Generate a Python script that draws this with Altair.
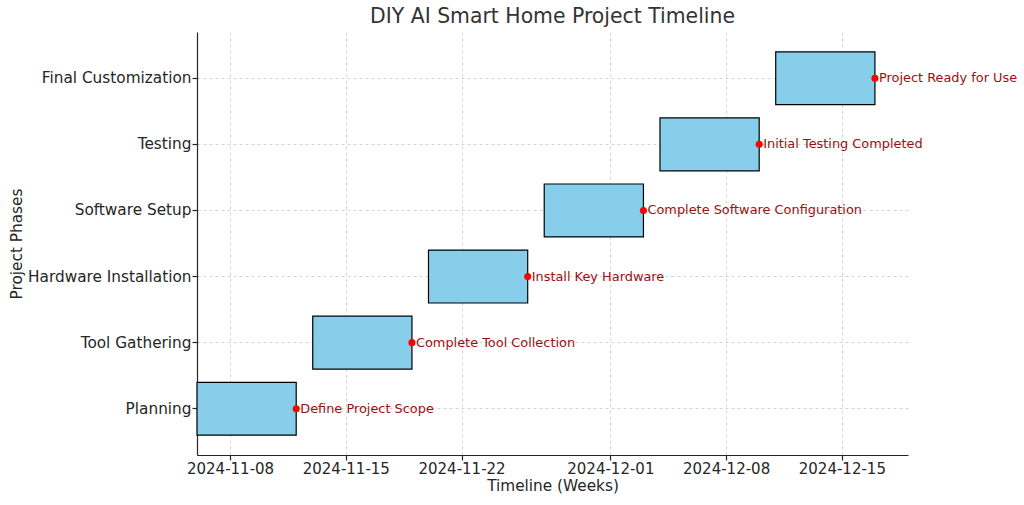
import altair as alt
import pandas as pd

phases = ["Planning", "Tool Gathering", "Hardware Installation", "Software Setup", "Testing", "Final Customization"]
starts = ["2024-11-06", "2024-11-13", "2024-11-20", "2024-11-27", "2024-12-04", "2024-12-11"]
ends = ["2024-11-12", "2024-11-19", "2024-11-26", "2024-12-03", "2024-12-10", "2024-12-17"]
milestones = ["Define Project Scope", "Complete Tool Collection", "Install Key Hardware",
              "Complete Software Configuration", "Initial Testing Completed", "Project Ready for Use"]
tick_dates = [(2024, 11, 8), (2024, 11, 15), (2024, 11, 22), (2024, 12, 1), (2024, 12, 8), (2024, 12, 15)]

df = pd.DataFrame({"phase": phases, "start": starts, "end": ends, "milestone": milestones})

FONT = "DejaVu Sans"
order = list(reversed(phases))

x_scale = alt.Scale(type="utc",
                    domain=[alt.DateTime(year=2024, month=11, date=6, utc=True),
                            alt.DateTime(year=2024, month=12, date=19, utc=True)],
                    nice=False)
y_scale = alt.Scale(domain=order, paddingInner=0.2, paddingOuter=0.3)

x_axis = alt.Axis(title="Timeline (Weeks)",
                  labelExpr="utcFormat(datum.value, '%Y-%m-%d')",
                  values=[alt.DateTime(year=y, month=m, date=d, utc=True) for (y, m, d) in tick_dates],
                  labelFont=FONT, labelFontSize=15, labelColor="#262626", labelPadding=1,
                  titleFont=FONT, titleFontSize=15.3, titleFontWeight="normal", titleColor="#262626",
                  titlePadding=2, tickSize=5, tickColor="#262626", domainColor="#262626",
                  grid=True, gridDash=[3, 3], gridColor="#d4d4d4", labelFlush=False)
y_axis = alt.Axis(title="Project Phases",
                  labelFont=FONT, labelFontSize=15.3, labelColor="#262626", labelPadding=1,
                  titleFont=FONT, titleFontSize=15.3, titleFontWeight="normal", titleColor="#262626",
                  titlePadding=3, tickSize=5, tickColor="#262626", domainColor="#262626",
                  grid=True, gridDash=[3, 3], gridColor="#d4d4d4")

X_start = alt.X("start:T", scale=x_scale, axis=x_axis)
X_end = alt.X("end:T", scale=x_scale, axis=x_axis)
Y = alt.Y("phase:N", scale=y_scale, axis=y_axis, sort=order)

base = alt.Chart(df)

bars = base.mark_bar(color="#87CEEB", stroke="black", strokeWidth=1.2).encode(
    x=X_start, x2="end:T", y=Y,
)

dots = base.mark_point(filled=True, color="red", size=50, opacity=1).encode(
    x=X_end, y=Y,
)

labels = base.mark_text(align="left", baseline="middle", dx=4, font=FONT, fontSize=12.9,
                        color="#9b1010").encode(
    x=X_end, y=Y, text="milestone:N",
)

chart = (bars + dots + labels).properties(
    width=711, height=423,
    title=alt.TitleParams("DIY AI Smart Home Project Timeline", font=FONT, fontSize=20.4,
                          fontWeight="normal", color="#333333", anchor="middle", offset=5),
    autosize=alt.AutoSizeParams(type="none"),
    padding={"left": 197, "top": 32, "right": 116, "bottom": 50},
).configure_view(stroke=None).configure_axis(domainWidth=1.2, tickWidth=1.2)

chart.save("out.html", embed_options={"renderer": "svg", "actions": False})
